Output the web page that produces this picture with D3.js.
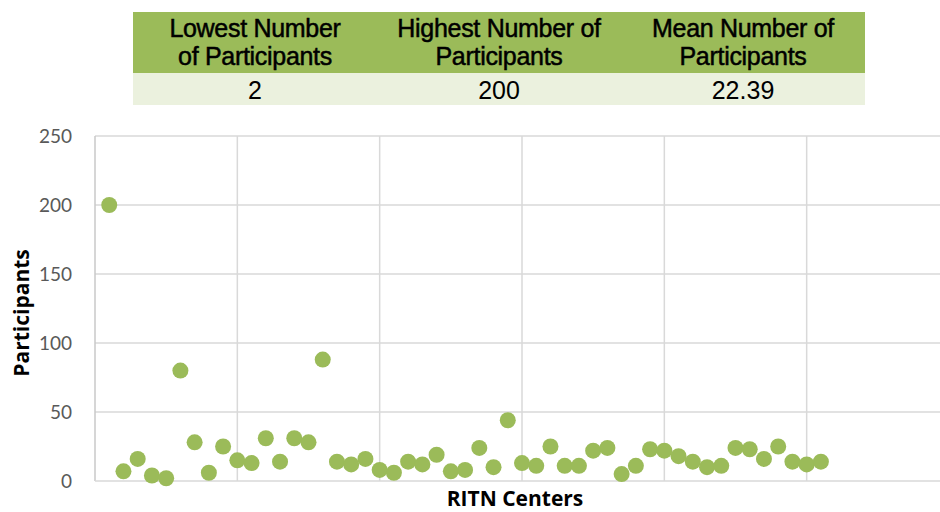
<!DOCTYPE html>
<meta charset="utf-8">
<title>RITN Centers Participants</title>
<style>
  body { margin: 0; background: #fff; }
  svg { display: block; }
</style>
<body>
<script src="https://cdn.jsdelivr.net/npm/d3@7/dist/d3.min.js"></script>
<script>
// data ===============================================================
var participants = [200, 7, 16, 4, 2, 80, 28, 6, 25, 15,
                    13, 31, 14, 31, 28, 88, 14, 12, 16, 8,
                    6, 14, 12, 19, 7, 8, 24, 10, 44, 13,
                    11, 25, 11, 11, 22, 24, 5, 11, 23, 22,
                    18, 14, 10, 11, 24, 23, 16, 25, 14, 12, 14];
var yTicks = [0, 50, 100, 150, 200, 250];
var xGrid = [10, 20, 30, 40, 50, 60];
var tableHead = [['Lowest Number', 'of Participants'],
                 ['Highest Number of', 'Participants'],
                 ['Mean Number of', 'Participants']];
var tableVals = ['2', '200', '22.39'];

var width = 940,
    height = 512;

var svg = d3.select('body').append('svg')
    .attr('width', width)
    .attr('height', height);

var x = d3.scaleLinear().domain([0, 60]).range([95, 949]);
var y = d3.scaleLinear().domain([0, 250]).range([481, 136]);

// gridlines ==========================================================
svg.selectAll('.hgrid')
    .data(yTicks.slice(1))
  .enter().append('line')
    .attr('x1', x(0)).attr('x2', width)
    .attr('y1', function(d) { return y(d); })
    .attr('y2', function(d) { return y(d); })
    .style('stroke', '#d9d9d9')
    .style('stroke-width', 1.5);

svg.selectAll('.vgrid')
    .data(xGrid)
  .enter().append('line')
    .attr('x1', function(d) { return x(d); })
    .attr('x2', function(d) { return x(d); })
    .attr('y1', y(250)).attr('y2', y(0))
    .style('stroke', '#d9d9d9')
    .style('stroke-width', 1.5);

// axes lines
svg.append('line')
    .attr('x1', x(0)).attr('x2', x(0))
    .attr('y1', y(250)).attr('y2', y(0))
    .style('stroke', '#c8c8c8').style('stroke-width', 1.5);
svg.append('line')
    .attr('x1', x(0)).attr('x2', width)
    .attr('y1', y(0)).attr('y2', y(0))
    .style('stroke', '#d9d9d9').style('stroke-width', 1.5);

// y tick labels
svg.selectAll('.ytick')
    .data(yTicks)
  .enter().append('text')
    .attr('x', 72)
    .attr('y', function(d) { return y(d); })
    .attr('dy', '0.35em')
    .attr('text-anchor', 'end')
    .style('font-family', 'Lato, sans-serif')
    .style('font-size', '19px')
    .style('fill', '#595959')
    .text(function(d) { return d; });

// points =============================================================
svg.selectAll('.dot')
    .data(participants)
  .enter().append('circle')
    .attr('cx', function(d, i) { return x(i + 1); })
    .attr('cy', function(d) { return y(d); })
    .attr('r', 8)
    .style('fill', '#9bbb59');

// axis titles
svg.append('text')
    .attr('x', 515).attr('y', 506)
    .attr('text-anchor', 'middle')
    .style('font-family', 'Open Sans, sans-serif')
    .style('font-weight', 'bold')
    .style('font-size', '21px')
    .style('fill', '#000')
    .text('RITN Centers');

svg.append('text')
    .attr('transform', 'translate(29,313) rotate(-90)')
    .attr('text-anchor', 'middle')
    .style('font-family', 'Open Sans, sans-serif')
    .style('font-weight', 'bold')
    .style('font-size', '21px')
    .style('fill', '#000')
    .text('Participants');

// table ==============================================================
var tX = 133, tW = 732, colW = tW / 3;
svg.append('rect')
    .attr('x', tX).attr('y', 12).attr('width', tW).attr('height', 61)
    .style('fill', '#9bbb59');
svg.append('rect')
    .attr('x', tX).attr('y', 73).attr('width', tW).attr('height', 32)
    .style('fill', '#ebf1de');

function cell(cx, cy, txt, heavy) {
  svg.append('text')
    .attr('x', cx).attr('y', cy)
    .attr('text-anchor', 'middle')
    .style('font-family', 'Liberation Sans, Arial, sans-serif')
    .style('font-size', '25px')
    .style('letter-spacing', heavy ? '-0.3px' : '0px')
    .style('fill', '#000')
    .style('stroke', heavy ? '#000' : 'none')
    .style('stroke-width', 0.5)
    .text(txt);
}

for (var i = 0; i < 3; i++) {
  var cx = tX + colW * (i + 0.5);
  cell(cx, 37, tableHead[i][0], true);
  cell(cx, 65, tableHead[i][1], true);
  cell(cx, 99, tableVals[i], false);
}
</script>
</body>
